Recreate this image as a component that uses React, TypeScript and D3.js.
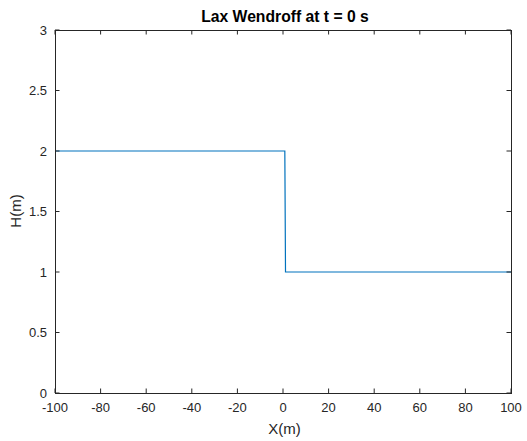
import React from 'react';
import * as d3 from 'd3';

// water height profile at t = 0 (dam break)
const xs = [-100, 0.8, 1.1, 100];
const hs = [2, 2, 1, 1];
const xTicks = [-100, -80, -60, -40, -20, 0, 20, 40, 60, 80, 100];
const yTicks = [0, 0.5, 1, 1.5, 2, 2.5, 3];
const yTickLabels = ['0', '0.5', '1', '1.5', '2', '2.5', '3'];

const W = 527, H = 441;
const left = 55, right = 511, top = 30, bottom = 393;
const font = 'Liberation Sans, Arial, Helvetica, sans-serif';
const axisColor = '#262626';

const App = () => {
    const x = d3.scaleLinear().domain([-100, 100]).range([left, right]);
    const y = d3.scaleLinear().domain([0, 3]).range([bottom, top]);

    const line = d3.line<number>()
        .x((d, i) => x(xs[i]))
        .y(d => y(d));

    const tl = 4.5;

    return (
        <svg width={W} height={H} style={{ position: 'absolute', left: 0, top: 0, background: '#fff' }}>
            <rect x={0} y={0} width={W} height={H} fill="#fff" />
            <path d={line(hs) || ''} fill="none" stroke="#0072BD" strokeWidth={1.2} />
            <rect x={left} y={top} width={right - left} height={bottom - top}
                fill="none" stroke={axisColor} strokeWidth={1} shapeRendering="crispEdges" />
            {xTicks.map(t => (
                <g key={'x' + t}>
                    <line x1={x(t)} x2={x(t)} y1={bottom} y2={bottom - tl} stroke={axisColor} />
                    <line x1={x(t)} x2={x(t)} y1={top} y2={top + tl} stroke={axisColor} />
                    <text x={x(t)} y={bottom + 19} textAnchor="middle" fontFamily={font}
                        fontSize={13} fill={axisColor}>{t}</text>
                </g>
            ))}
            {yTicks.map((t, i) => (
                <g key={'y' + t}>
                    <line x1={left} x2={left + tl} y1={y(t)} y2={y(t)} stroke={axisColor} />
                    <line x1={right} x2={right - tl} y1={y(t)} y2={y(t)} stroke={axisColor} />
                    <text x={left - 8} y={y(t) + 4.5} textAnchor="end" fontFamily={font}
                        fontSize={13} fill={axisColor}>{yTickLabels[i]}</text>
                </g>
            ))}
            <text x={285} y={22} textAnchor="middle" fontFamily={font}
                fontSize={15.7} fontWeight="bold" fill="#000">Lax Wendroff at t = 0 s</text>
            <text x={284.5} y={434} textAnchor="middle" fontFamily={font}
                fontSize={15} fill={axisColor}>X(m)</text>
            <text transform={`translate(21,211) rotate(-90)`} textAnchor="middle"
                fontFamily={font} fontSize={15} fill={axisColor}>H(m)</text>
        </svg>
    );
};

export default App;
